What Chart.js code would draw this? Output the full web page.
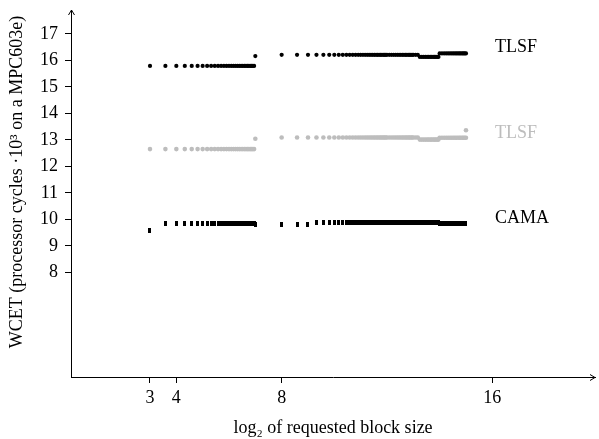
<!DOCTYPE html>
<html>
<head>
<meta charset="utf-8">
<script src="https://cdn.jsdelivr.net/npm/chart.js@4.4.1/dist/chart.umd.min.js"></script>
<style>
    html, body { margin: 0; padding: 0; background: #fff; }
    #wrap { width: 599px; height: 439px; position: relative; }
</style>
</head>
<body>
<div id="wrap"><canvas id="chart-wcet"></canvas></div>
<script>
// requested block sizes (bytes), grouped where the measured WCET stays level
const sizesFirst = [8];
const sizesSmall = [12, 16, 20, 24, 28, 32, 36, 40, 44, 48, 52, 56, 60, 64, 68, 72, 76, 80,
    84, 88, 92, 96, 100, 104, 108, 112, 116, 120, 124];
const sizesStep = [128];
const sizesLowMid = [256, 384, 512];
const sizesMid = [640, 768, 896, 1024, 1152, 1280, 1408, 1536, 1664, 1792, 1920, 2048,
    2176, 2304, 2432, 2560, 2688, 2816, 2944, 3072, 3200, 3328, 3456, 3584, 3712, 3840,
    3968, 4096, 4352, 4608, 4864, 5120, 5376, 5632, 5888, 6144, 6400, 6656, 6912, 7168,
    7424, 7680, 7936, 8192, 8704, 9216];
const sizesUpper = [9728, 10240, 10752, 11264, 11776, 12288, 12800, 13312, 13824, 14336,
    14848, 15360, 15872];
const sizesTop = [16384, 17408, 18432, 19456, 20480, 21504, 22528, 23552, 24576, 25600,
    26624, 27648, 28672, 29696, 30720, 31744, 32768];
const sizeGroups = [sizesFirst, sizesSmall, sizesStep, sizesLowMid, sizesMid, sizesUpper, sizesTop];

// WCET (cycles x 10^3) per size group
const tlsfBlackLevels = [15.79, 15.79, 16.16, 16.21, 16.21, 16.13, 16.26];
const tlsfGrayLevels = [12.65, 12.65, 13.04, 13.09, 13.09, 13.01, 13.08];
const camaLevels = [9.59, 9.83, 9.82, 9.80, 9.88, 9.88, 9.85];
const tlsfGrayExtraSizes = [32768];
const tlsfGrayExtraValues = [13.36];

const xTicks = [3, 4, 8, 16];
const yTicks = [8, 9, 10, 11, 12, 13, 14, 15, 16, 17];
const seriesLabels = ['TLSF', 'TLSF', 'CAMA'];

const SERIF = "'Liberation Serif', 'Times New Roman', serif";
const GRAY = '#bdbdbd';

function buildPoints(levels, extraSizes, extraValues) {
    const pts = [];
    sizeGroups.forEach((group, i) => {
        group.forEach(s => pts.push({ x: Math.log2(s), y: levels[i] }));
    });
    (extraSizes || []).forEach((s, i) => pts.push({ x: Math.log2(s), y: extraValues[i] }));
    return pts;
}

// CAMA marks are small upright bars
const camaMark = document.createElement('canvas');
camaMark.width = 3;
camaMark.height = 5;
(function () {
    const c = camaMark.getContext('2d');
    c.fillStyle = '#000';
    c.fillRect(0, 0, 3, 5);
})();

const axisExtras = {
    id: 'axisExtras',
    afterDraw(chart) {
        const { ctx, chartArea: a, scales } = chart;
        ctx.save();
        ctx.strokeStyle = '#000';
        ctx.lineWidth = 1;
        // arrow heads
        ctx.beginPath();
        ctx.moveTo(a.left + 0.5 - 3, a.top + 5);
        ctx.lineTo(a.left + 0.5, a.top);
        ctx.lineTo(a.left + 0.5 + 3, a.top + 5);
        ctx.moveTo(a.right - 5, a.bottom + 0.5 - 3);
        ctx.lineTo(a.right, a.bottom + 0.5);
        ctx.lineTo(a.right - 5, a.bottom + 0.5 + 3);
        ctx.stroke();

        // y axis title
        ctx.fillStyle = '#000';
        ctx.font = '18px ' + SERIF;
        ctx.textAlign = 'center';
        ctx.textBaseline = 'middle';
        ctx.translate(17, 182);
        ctx.rotate(-Math.PI / 2);
        ctx.fillText('WCET (processor cycles \u00b710\u00b3 on a MPC603e)', 0, 0);
        ctx.restore();

        // series labels at the right end
        const xs = scales.x, ys = scales.y;
        const labelPos = [[16.1, 16.5, '#000'], [16.1, 13.25, GRAY], [16.1, 10.05, '#000']];
        ctx.save();
        ctx.font = '18px ' + SERIF;
        ctx.textAlign = 'left';
        ctx.textBaseline = 'middle';
        seriesLabels.forEach((t, i) => {
            ctx.fillStyle = labelPos[i][2];
            ctx.fillText(t, xs.getPixelForValue(labelPos[i][0]), ys.getPixelForValue(labelPos[i][1]));
        });
        ctx.restore();
    }
};

new Chart(document.getElementById('chart-wcet').getContext('2d'), {
    type: 'scatter',
    data: {
        datasets: [
            {
                label: 'CAMA',
                data: buildPoints(camaLevels),
                pointStyle: camaMark,
                pointRadius: 3,
                backgroundColor: '#000',
                borderWidth: 0
            },
            {
                label: 'TLSF (gray)',
                data: buildPoints(tlsfGrayLevels, tlsfGrayExtraSizes, tlsfGrayExtraValues),
                pointRadius: 2.3,
                backgroundColor: GRAY,
                borderWidth: 0
            },
            {
                label: 'TLSF',
                data: buildPoints(tlsfBlackLevels),
                pointRadius: 2.1,
                backgroundColor: '#000',
                borderWidth: 0
            }
        ]
    },
    options: {
        responsive: true,
        maintainAspectRatio: false,
        animation: false,
        layout: { padding: { top: 10, right: 1, left: 0, bottom: 0 } },
        plugins: {
            legend: { display: false },
            tooltip: { enabled: false }
        },
        scales: {
            x: {
                type: 'linear',
                min: 0,
                max: 19.9,
                afterBuildTicks: s => { s.ticks = xTicks.map(v => ({ value: v })); },
                afterFit: s => { s.height = 62; s.paddingLeft = 0; s.paddingRight = 0; },
                ticks: { color: '#000', padding: 4, font: { family: SERIF, size: 18 } },
                grid: { drawOnChartArea: false, drawTicks: true, tickLength: 6, color: '#000' },
                border: { display: true, color: '#000', width: 1 },
                title: {
                    display: true,
                    text: 'log\u2082 of requested block size',
                    color: '#000',
                    font: { family: SERIF, size: 18 },
                    padding: { top: 0, bottom: 0 }
                }
            },
            y: {
                type: 'linear',
                min: 4.05,
                max: 17.9,
                afterBuildTicks: s => { s.ticks = yTicks.map(v => ({ value: v })); },
                afterFit: s => { s.width = 71; s.paddingTop = 0; s.paddingBottom = 0; },
                ticks: { color: '#000', padding: 7, font: { family: SERIF, size: 18 } },
                grid: { drawOnChartArea: false, drawTicks: true, tickLength: 6, color: '#000' },
                border: { display: true, color: '#000', width: 1 }
            }
        }
    },
    plugins: [axisExtras]
});
</script>
</body>
</html>
